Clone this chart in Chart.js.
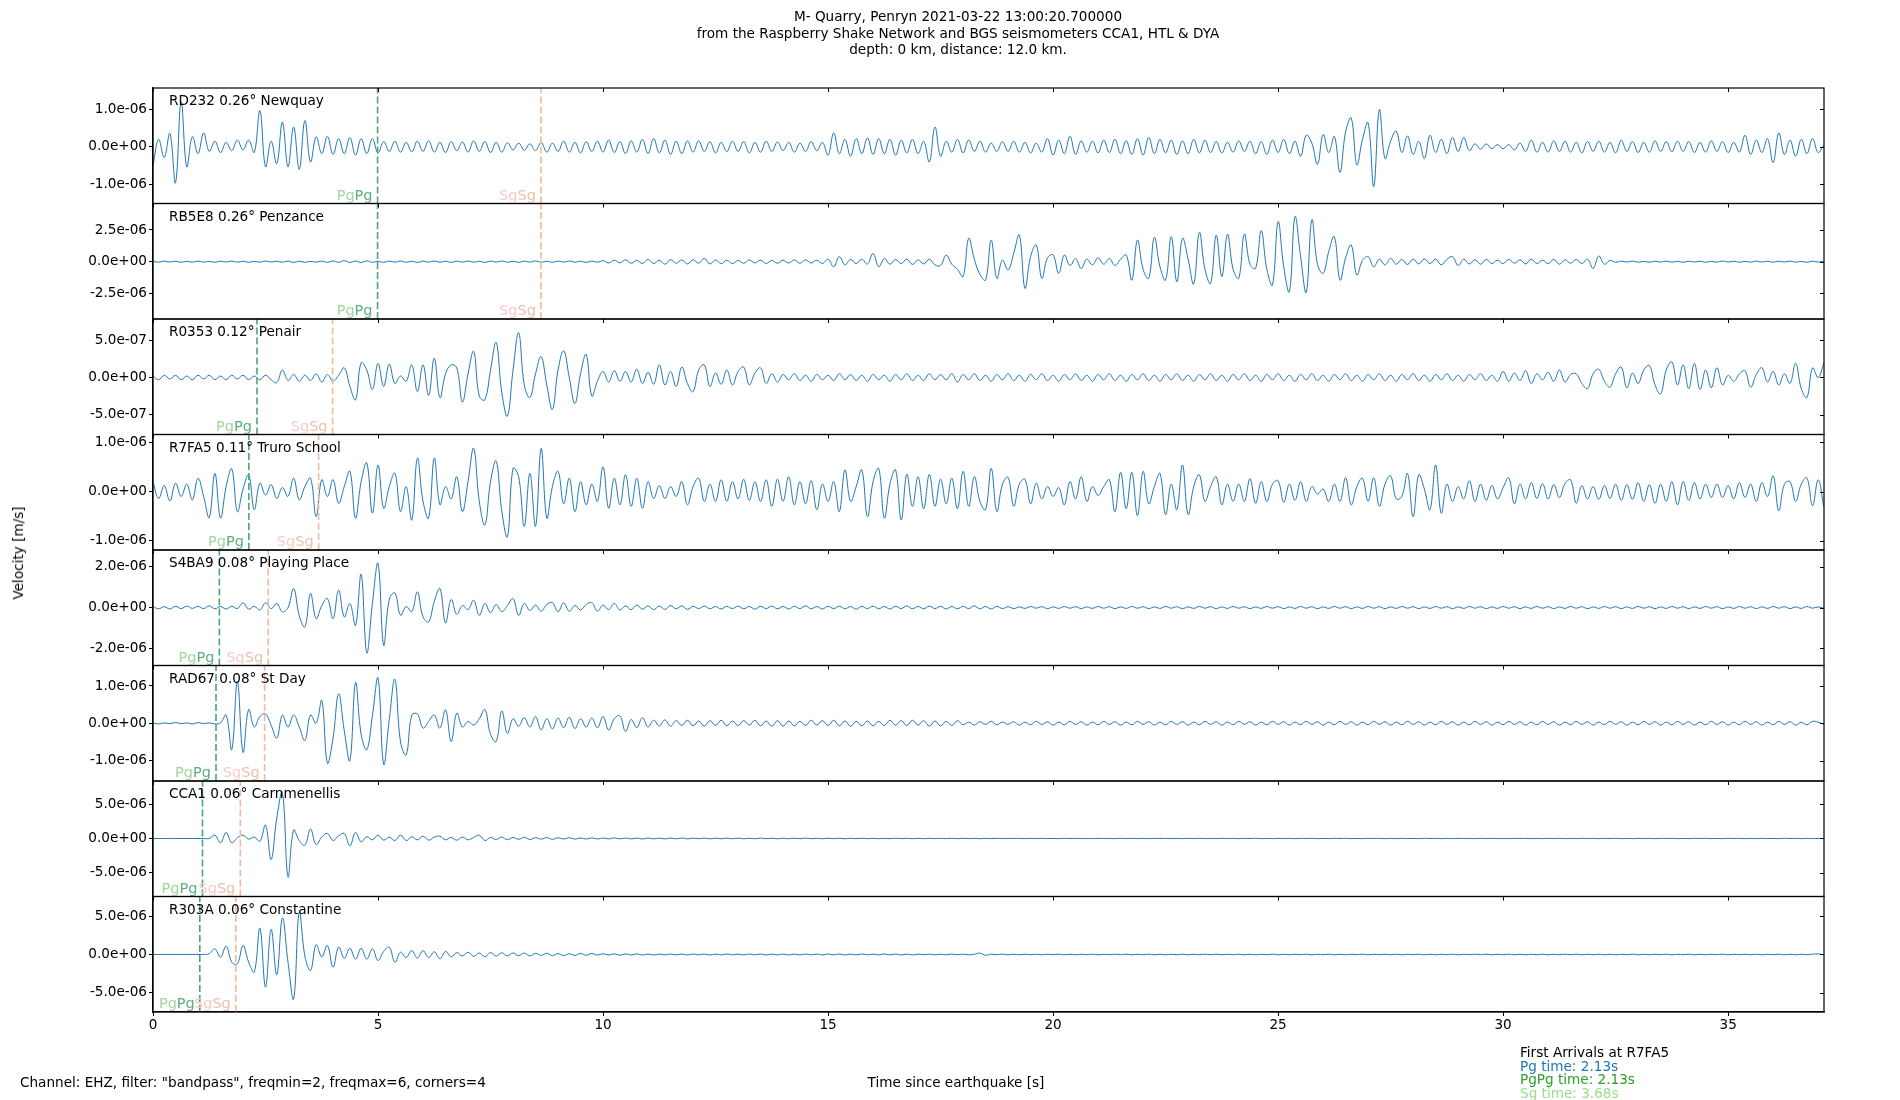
<!DOCTYPE html>
<html>
<head>
<meta charset="utf-8">
<title>M- Quarry, Penryn 2021-03-22</title>
<script src="https://cdn.jsdelivr.net/npm/chart.js@4.4.1/dist/chart.umd.min.js"></script>
<style>
  body { margin: 0; background: #fff; }
  #wrap { position: relative; width: 1900px; height: 1100px; font-family: "DejaVu Sans", sans-serif; font-size: 13.6px; color: #000; }
  #wrap canvas { position: absolute; left: 0; top: 0; }
  .txt { position: absolute; white-space: nowrap; }
  #title { left: 958px; top: 8px; transform: translateX(-50%); text-align: center; line-height: 16.5px; }
  #ylab { left: 18px; top: 553px; transform: translate(-50%, -50%) rotate(-90deg); }
  #chan { left: 20px; top: 1074px; line-height: 16px; }
  #xlab { left: 956px; top: 1074px; line-height: 16px; transform: translateX(-50%); }
  #arr { left: 1520px; top: 1046px; line-height: 13.7px; }
</style>
</head>
<body>
<div id="wrap">
  <canvas id="chart" width="1900" height="1100"></canvas>
  <div class="txt" id="title">M- Quarry, Penryn 2021-03-22 13:00:20.700000<br>from the Raspberry Shake Network and BGS seismometers CCA1, HTL &amp; DYA<br>depth: 0 km, distance: 12.0 km.</div>
  <div class="txt" id="ylab">Velocity [m/s]</div>
  <div class="txt" id="chan">Channel: EHZ, filter: "bandpass", freqmin=2, freqmax=6, corners=4</div>
  <div class="txt" id="xlab">Time since earthquake [s]</div>
  <div class="txt" id="arr">
    <div>First Arrivals at R7FA5</div>
    <div style="color:#1f77b4">Pg time: 2.13s</div>
    <div style="color:#2ca02c">PgPg time: 2.13s</div>
    <div style="color:#98df8a">Sg time: 3.68s</div>
  </div>
</div>
<script>
// traces, one value every DT seconds, in units of 1e-8 m/s
const DT = 0.125;
const UNIT = 1e-8;

const RD232 = [
  -50, 20, -28, 36, -96, 120, -53, 27,
  -18, 37, -12, 15, -15, 12, -10, 18,
  -8, 18, -15, 97, -53, 15, -45, 66,
  -53, 53, -60, 70, -40, 27, -18, 28,
  -20, 22, -18, 25, -22, 22, -18, 22,
  -16, 14, -12, 15, -14, 12, -13, 15,
  -12, 16, -14, 12, -15, 14, -10, 13,
  -14, 16, -12, 14, -15, 12, -14, 11,
  -8, 10, -9, 8, -10, 12, -14, 10,
  -12, 15, -14, 12, -16, 14, -12, 15,
  -14, 18, -15, 14, -18, 16, -14, 20,
  -18, 22, -16, 18, -20, 15, -18, 16,
  -14, 16, -12, 14, -16, 12, -13, 15,
  -12, 14, -16, 12, -14, 15, -12, 13,
  -10, 12, -14, 10, -12, 14, -10, 12,
  -22, 37, -18, 20, -25, 22, -18, 24,
  -20, 22, -18, 20, -22, 18, -16, 20,
  -18, 15, -40, 53, -25, 15, -14, 20,
  -16, 18, -12, 15, -14, 10, -12, 14,
  -12, 15, -14, 12, -16, 10, -14, 22,
  -22, 18, -18, 28, -20, 16, -14, 15,
  -16, 18, -15, 20, -18, 16, -20, 22,
  -22, 25, -18, 20, -16, 18, -20, 16,
  -18, 20, -16, 18, -15, 14, -16, 12,
  -14, 16, -12, 15, -18, 14, -20, 18,
  -15, 20, -18, 15, -25, 31, 10, -47,
  33, -15, 28, -68, 40, 77, -48, 20,
  64, -106, 100, -31, 15, 42, -15, 29,
  -20, 15, -31, 31, -15, 20, -18, 25,
  -12, 25, -10, 8, -6, 8, -5, 6,
  -5, 6, -8, 10, -12, 18, -14, 12,
  -14, 16, -12, 15, -14, 12, -16, 14,
  -12, 15, -14, 12, -16, 18, -12, 14,
  -15, 12, -14, 16, -12, 14, -13, 15,
  -12, 14, -15, 12, -14, 16, -12, 14,
  -15, 12, -14, 31, -20, 18, -15, 22,
  -42, 37, -20, 18, -25, 20, -18, 22,
  -15, 5
];

const RB5E8 = [
  3, -4, 5, -3, 4, -5, 3, -4,
  5, -4, 3, -5, 4, -3, 5, -4,
  4, -5, 3, -4, 6, -3, 4, -5,
  5, -6, 4, -5, 3, -4, 5, -6,
  6, -5, 8, -6, 5, -7, 6, -5,
  4, -6, 5, -4, 6, -5, 4, -6,
  5, -4, 6, -5, 4, -6, 5, -4,
  6, -5, 4, -6, 5, -4, 6, -5,
  4, -6, 5, -4, 7, -5, 4, -6,
  5, -4, 6, -5, 4, -6, 5, -4,
  8, -10, 12, -9, 15, -12, 10, -14,
  18, -15, 12, -20, 16, -12, 14, -18,
  15, -12, 26, -18, 14, -16, 12, -15,
  10, -12, 14, -10, 12, -14, 10, -12,
  12, -10, 14, -12, 15, -10, 12, -14,
  20, -40, 40, -25, 18, -15, 20, -18,
  65, -40, 25, -20, 18, -15, 20, -22,
  15, -18, 20, -25, -30, 52, -20, -60,
  -118, 184, 20, -100, -145, 171, -132, 13,
  -66, 66, 210, -210, 40, 132, -132, 30,
  53, -92, 53, -30, 25, -53, 20, -25,
  30, -20, 25, -30, 20, 53, -145, 171,
  -60, -132, 192, -40, -145, 197, -158, 184,
  20, -176, 231, -60, -171, 210, -118, 216,
  -60, -132, 218, -20, -53, 245, -60, -184,
  316, -40, -237, 355, 40, -242, 330, -20,
  -92, 80, 197, -145, 30, 132, -105, 10,
  40, -40, 20, -25, 26, -20, 18, -22,
  20, -18, 22, -15, 20, -25, 18, 40,
  -30, 20, -18, 15, -20, 18, -15, 12,
  -15, 18, -12, 15, -18, 20, -14, 12,
  -15, 18, -20, 15, -12, 18, -15, 20,
  -53, 45, -20, 10, -5, 4, -3, 5,
  -4, 3, -5, 4, -3, 5, -4, 3,
  -5, 4, -3, 4, -5, 3, -4, 6,
  -3, 4, -5, 3, -4, 5, -3, 4,
  -5, 4, -3, 5, -4, 3, -5, 4,
  -3, 4
];

const R0353 = [
  2, -3, 3, -2, 3, -3, 2, -3,
  3, -2, 3, -3, 2, -3, 3, -2,
  3, -3, 2, -3, 3, -3, -7, 10,
  -4, 4, -5, 3, -4, 5, -6, 4,
  -5, 3, 13, -12, -30, 20, 10, -16,
  19, -12, 18, -8, 2, -5, 17, -19,
  17, -24, 26, -27, 5, 17, 13, -33,
  5, 35, -25, -30, 10, 47, -20, -52,
  10, 60, -10, -27, 5, 28, -10, -43,
  10, 36, 0, -35, 5, 31, -25, -5,
  8, -6, 9, -5, 8, -6, 11, -8,
  7, -9, 17, -10, 8, -12, 14, -8,
  -19, 10, 17, -12, 6, -9, 10, -10,
  8, 14, -10, 6, 13, -8, 5, -6,
  4, -3, 5, -4, 3, -5, 4, -3,
  3, -4, 5, -3, 4, -4, 3, -5,
  4, -3, 3, -5, 4, -3, 5, -4,
  3, -4, 5, -3, 4, -3, 5, -6,
  4, -3, 5, -4, 3, -5, 4, -3,
  5, -4, 3, -5, 4, -3, 5, -4,
  3, -5, 4, -3, 5, -4, 3, -5,
  4, -3, 5, -4, 3, -5, 4, -3,
  5, -4, 3, -5, 4, -3, 5, -4,
  3, -5, 4, -3, 5, -4, 3, -5,
  4, -3, 5, -4, 3, -5, 4, -3,
  5, -4, 3, -5, 4, -3, 5, -4,
  3, -5, 4, -3, 5, -4, 3, -5,
  4, -3, 5, -4, 3, -5, 4, -3,
  5, -4, 3, -5, 4, -3, 5, -4,
  3, -5, 4, -3, 5, -4, 3, -5,
  8, -5, 6, -4, 9, -8, 5, -3,
  7, -5, 10, -6, 4, 5, -8, -15,
  5, 11, -5, -13, 5, 14, -14, 6,
  -8, 10, 16, -10, -22, 10, 21, -10,
  17, -15, 19, -16, 10, -14, 13, -10,
  3, -5, 5, 9, -13, 4, 13, -6,
  8, -10, 5, -8, 19, -15, -27, 13,
  0, 19
];

const R7FA5 = [
  20, -14, 12, -19, 17, -10, 15, -17,
  27, -10, -53, 37, -54, 10, 46, -41,
  5, 34, -37, 17, -7, 14, -14, 8,
  -10, 27, -17, 10, 27, -51, 24, -10,
  24, -24, 10, 41, -54, 20, 58, -44,
  54, -34, 10, 37, -41, 10, -58, 68,
  -20, -54, 68, -27, 10, -15, 30, -41,
  20, 88, -20, -68, 20, 62, -40, -92,
  47, 30, -71, 37, -71, 88, -54, 10,
  41, -25, 27, -41, 20, -27, 15, -20,
  50, -34, 27, -27, 34, -30, 27, -34,
  20, -14, 12, -14, 10, -10, 20, -27,
  10, 27, -20, 15, -20, 24, -20, 20,
  -15, 25, -18, 20, -20, 24, -30, 25,
  -20, 30, -27, 20, -25, 22, -37, 15,
  -20, 20, -41, 44, -20, 10, 44, -51,
  20, 47, -54, 15, 44, -58, 35, -30,
  30, -35, 35, -30, 25, -25, 27, -35,
  41, -30, 30, -20, -37, 47, -41, 15,
  29, -30, 15, 25, -25, 17, -15, 10,
  -10, 8, -27, 20, -15, 30, -20, 10,
  -8, 10, 24, -41, 39, -35, 39, -49,
  41, -25, 10, 37, -47, 15, -37, 54,
  -47, 10, 34, -20, 10, 30, -27, 15,
  -20, 15, -20, 26, -24, 20, -20, 15,
  22, -22, 15, -18, 20, -20, 10, -5,
  5, -20, 15, -20, 28, -27, 10, 27,
  -20, 28, -30, 15, 32, -15, -10, 37,
  -51, 34, 5, -37, 54, -44, 15, -20,
  10, -15, 22, -20, 15, -18, 12, -15,
  8, 28, -25, 15, -15, 18, -14, 16,
  -15, 14, -12, 16, 24, -24, 12, -15,
  10, -16, 12, -14, 15, -18, 14, -16,
  18, -20, 14, -24, 15, -20, 20, -27,
  20, -18, 18, -15, 15, -12, 15, -12,
  12, -15, 18, -12, 15, -20, 18, -10,
  32, -39, 15, 20, -20, 15, 28, -29,
  24, -30
];

const S4BA9 = [
  5, -6, 4, -7, 6, -5, 7, -4,
  6, -5, 8, -6, 5, -7, 6, -5,
  23, -8, 6, -12, 23, -5, 20, -21,
  0, 93, -40, -95, 69, -54, 10, 44,
  -54, 85, -46, 20, -87, 163, -222, 20,
  216, -184, 40, 72, -38, 5, -20, 77,
  -46, -70, 30, 93, -75, 39, -33, 10,
  -10, 36, -38, 20, -25, 15, -20, 10,
  44, -38, 20, -15, 12, -18, 15, 24,
  -20, 23, -18, 10, -12, 15, 24, -18,
  12, -10, 20, -12, 8, -10, 12, -8,
  8, -10, 7, -9, 10, -6, 8, -9,
  6, -5, 7, -6, 5, -7, 6, -5,
  7, -6, 5, -8, 6, -5, 7, -6,
  5, -7, 6, -5, 8, -6, 5, -7,
  6, -5, 7, -6, 5, -8, 6, -5,
  7, -6, 5, -7, 6, -5, 8, -6,
  5, -6, 7, -5, 6, -7, 5, -6,
  6, -5, 8, -6, 5, -7, 6, -5,
  4, -5, 3, -4, 5, -3, 4, -5,
  3, -4, 5, -3, 4, -5, 3, -4,
  5, -3, 4, -5, 3, -4, 5, -3,
  4, -5, 3, -4, 5, -3, 4, -5,
  3, -4, 5, -3, 4, -5, 3, -4,
  5, -3, 4, -5, 3, -4, 5, -3,
  4, -5, 3, -4, 5, -3, 4, -5,
  3, -4, 5, -3, 4, -5, 3, -4,
  5, -3, 4, -5, 3, -4, 5, -3,
  4, -5, 3, -4, 5, -3, 4, -5,
  3, -4, 5, -3, 4, -5, 3, -4,
  5, -3, 4, -5, 3, -4, 5, -3,
  4, -5, 3, -4, 5, -3, 4, -5,
  3, -4, 5, -3, 4, -5, 3, -4,
  5, -3, 4, -5, 3, -4, 5, -3,
  4, -5, 3, -4, 5, -3, 4, -5,
  3, -4, 5, -3, 4, -5, 3, -4,
  5, -3, 4, -5, 3, -4, 5, -3,
  3, -4
];

const RAD67 = [
  1, -2, 1, -1, 2, -1, 1, -2,
  2, -1, 1, -2, 1, 22, -71, 112,
  -78, 37, -10, 18, 25, -5, -40, 22,
  -10, 22, -10, -46, 22, 0, 61, -107,
  -40, 79, -20, -100, 109, -30, -71, 20,
  121, -110, 10, 118, -50, -85, 22, 25,
  -13, 5, 22, -13, 36, -49, 27, -10,
  5, -5, 12, 37, -30, -49, 33, -27,
  12, -8, 15, -10, 18, -18, 12, -15,
  14, -12, 16, -14, 12, -10, 14, -12,
  18, -18, 12, 20, -22, 10, -12, 15,
  -10, 8, -7, 9, -8, 7, -6, 8,
  -7, 6, -8, 7, -6, 8, -7, 6,
  -6, 7, -5, 8, -7, 6, -8, 7,
  -8, 6, -7, 5, -6, 8, -5, 7,
  -6, 8, -7, 6, -8, 5, -7, 6,
  -7, 5, -6, 8, -5, 7, -6, 8,
  -5, 7, -8, 6, -7, 5, -6, 7,
  -4, 3, -5, 4, -3, 5, -4, 3,
  -3, 4, -5, 3, -4, 5, -3, 4,
  -5, 3, -4, 5, -3, 4, -5, 3,
  -4, 5, -3, 4, -5, 3, -4, 5,
  -3, 4, -5, 3, -4, 5, -3, 4,
  -5, 3, -4, 5, -3, 4, -5, 3,
  -4, 5, -3, 4, -5, 3, -4, 5,
  -3, 4, -5, 3, -4, 5, -3, 4,
  -5, 3, -4, 5, -3, 4, -5, 3,
  -4, 5, -3, 4, -5, 3, -4, 5,
  -3, 4, -5, 3, -4, 5, -3, 4,
  -5, 3, -4, 5, -3, 4, -5, 3,
  -4, 5, -3, 4, -5, 3, -4, 5,
  -3, 4, -5, 3, -4, 5, -3, 4,
  -5, 3, -4, 5, -3, 4, -5, 3,
  -4, 5, -3, 4, -5, 3, -4, 5,
  -3, 4, -5, 3, -4, 5, -3, 4,
  -5, 3, -4, 5, -3, 4, -5, 3,
  -4, 5, -3, 4, -5, 3, -4, 5,
  3, -3
];

const CCA1 = [
  0, 0, 0, 0, 0, 0, 0, 0,
  0, 0, 0, 49, -63, 88, -63, 10,
  49, -10, 20, -40, 195, -307, 300, 673,
  -561, 122, -30, -98, 137, -88, 20, 73,
  -30, 40, 73, -107, 88, -49, 25, -20,
  49, -25, 20, -30, 49, -30, 25, -20,
  34, -25, 20, 34, -20, 15, -25, 20,
  -20, 15, 49, -30, 15, -15, 20, -18,
  15, -12, 18, -15, 12, -10, 14, -12,
  10, -8, 12, -10, 8, -9, 10, -8,
  8, -7, 9, -6, 8, -7, 6, -8,
  7, -6, 5, -7, 6, -5, 7, -6,
  5, -4, 6, -5, 4, -5, 5, -4,
  4, -5, 3, -4, 5, -3, 4, -5,
  3, -4, 4, -3, 5, -4, 3, -4,
  4, -3, 3, -4, 3, -3, 4, -3,
  3, -3, 2, -3, 4, -2, 3, -3,
  2, -3, 3, -2, 3, -2, 2, -3,
  3, -2, 2, -3, 2, -2, 3, -2,
  2, -1, 2, -2, 1, -2, 2, -1,
  1, -2, 2, -1, 2, -2, 1, -2,
  2, -1, 1, -2, 2, -1, 2, -2,
  1, -2, 2, -1, 2, -2, 1, -2,
  2, -1, 2, -2, 1, -2, 2, -1,
  1, -2, 2, -1, 2, -2, 1, -2,
  2, -1, 1, -2, 2, -1, 2, -2,
  1, -2, 2, -1, 2, -2, 1, -2,
  2, -1, 2, -2, 1, -2, 2, -1,
  1, -2, 2, -1, 2, -2, 1, -2,
  2, -1, 1, -2, 2, -1, 2, -2,
  1, -2, 2, -1, 2, -2, 1, -2,
  2, -1, 2, -2, 1, -2, 2, -1,
  1, -2, 2, -1, 2, -2, 1, -2,
  2, -1, 1, -2, 2, -1, 2, -2,
  1, -2, 2, -1, 2, -2, 1, -2,
  2, -1, 2, -2, 1, -2, 2, -1,
  1, -2, 2, -1, 2, -2, 1, -2,
  1, -1
];

const R303A = [
  0, 0, 0, 0, 0, 0, 0, 0,
  0, 0, 10, 74, -35, 109, -100, -122,
  118, -100, -231, 345, -428, 328, -266, 476,
  -100, -581, 555, -20, -210, 127, -30, 118,
  -166, 96, -50, 80, -60, 80, -60, 74,
  -79, 40, 96, -100, 30, -40, 50, -45,
  50, -40, 35, -55, 40, -30, 25, -20,
  30, -25, 20, -30, 25, -20, 22, -18,
  20, -15, 18, -20, 15, -12, 16, -14,
  12, -14, 10, -12, 14, -10, 12, -8,
  10, -8, 9, -10, 8, -7, 9, -8,
  6, -7, 5, -6, 7, -5, 6, -7,
  7, -5, 6, -7, 5, -6, 7, -5,
  5, -6, 7, -5, 6, -7, 5, -6,
  6, -7, 5, -6, 7, -5, 6, -7,
  7, -5, 6, -7, 5, -6, 7, -5,
  5, -6, 7, -5, 6, -7, 5, -6,
  4, -3, 5, -4, 3, -4, 5, -3,
  4, -5, 3, 18, -10, 4, -3, 5,
  -4, 3, -4, 4, -3, 4, -4, 3,
  -3, 4, -4, 3, -4, 3, -3, 4,
  -4, 3, -3, 4, -3, 4, -4, 3,
  -3, 4, -4, 3, -4, 3, -3, 4,
  -4, 3, -3, 4, -3, 4, -4, 3,
  -3, 4, -4, 3, -4, 3, -3, 4,
  -4, 3, -3, 4, -3, 4, -4, 3,
  -3, 4, -4, 3, -4, 3, -3, 4,
  -4, 3, -3, 4, -3, 4, -4, 3,
  -3, 4, -4, 3, -4, 3, -3, 4,
  -4, 3, -3, 4, -3, 4, -4, 3,
  -3, 4, -4, 3, -4, 3, -3, 4,
  -4, 3, -3, 4, -3, 4, -4, 3,
  -3, 4, -4, 3, -4, 3, -3, 4,
  -4, 3, -3, 4, -3, 4, -4, 3,
  -3, 4, -4, 3, -4, 3, -3, 4,
  -4, 3, -3, 4, -3, 4, -4, 3,
  -3, 4, -4, 3, -4, 3, -3, 4,
  8, -5
];

const TRACES = [RD232, RB5E8, R0353, R7FA5, S4BA9, RAD67, CCA1, R303A];
const STATIONS = ['RD232 0.26° Newquay', 'RB5E8 0.26° Penzance', 'R0353 0.12° Penair',
  'R7FA5 0.11° Truro School', 'S4BA9 0.08° Playing Place', 'RAD67 0.08° St Day',
  'CCA1 0.06° Carnmenellis', 'R303A 0.06° Constantine'];

// arrival times [s] per station
const PG_T = [4.99, 4.99, 2.31, 2.13, 1.475, 1.40, 1.10, 1.04];
const SG_T = [8.62, 8.62, 3.99, 3.68, 2.56, 2.48, 1.94, 1.84];

// axis limits and ticks
const Y_MIN = [-1.51e-6, -4.52e-6, -7.66e-7, -1.19e-6, -2.84e-6, -1.55e-6, -8.48e-6, -7.53e-6];
const Y_MAX = [1.57e-6, 4.59e-6, 7.86e-7, 1.16e-6, 2.82e-6, 1.55e-6, 8.40e-6, 7.59e-6];
const Y_STEP = [1e-6, 2.5e-6, 5e-7, 1e-6, 2e-6, 1e-6, 5e-6, 5e-6];
const X_MAX = 37.13;
const X_TICKS = [0, 5, 10, 15, 20, 25, 30, 35];

const TRACE_COLOR = '#1f77b4';
const PG_LINE = '#4aa679', SG_LINE = '#edbba0';
const PG_LIGHT = '#a0d89c', PG_DARK = '#5aaf80';
const SG_LIGHT = '#fbcaca', SG_DARK = '#eec0a8';

const FONT_FAMILY = '"DejaVu Sans"';
Chart.defaults.font.family = FONT_FAMILY;
Chart.defaults.font.size = 13.6;
Chart.defaults.color = '#000';

function fmtSci(v) {
  const [m, e] = Number(v).toExponential(1).split('e');
  const sign = e[0] === '-' ? '-' : '+';
  return m + 'e' + sign + e.replace(/^[+-]/, '').padStart(2, '0');
}

const datasets = [];
const scales = {
  x: {
    type: 'linear', position: 'bottom', min: 0, max: X_MAX,
    afterBuildTicks: s => { s.ticks = X_TICKS.map(v => ({ value: v })); },
    afterFit: s => { s.height = 40; },
    ticks: { padding: 1, maxRotation: 0, autoSkip: false },
    grid: { display: true, drawOnChartArea: false, tickLength: 4, color: '#000' },
    border: { display: true, color: '#000', width: 1.2 }
  }
};

TRACES.forEach((tr, k) => {
  const id = 'p' + k;
  scales[id] = {
    type: 'linear', position: 'left', stack: 'panels', stackWeight: 1, weight: 8 - k,
    min: Y_MIN[k], max: Y_MAX[k],
    afterBuildTicks: s => { s.ticks = [-Y_STEP[k], 0, Y_STEP[k]].map(v => ({ value: v })); },
    afterFit: s => { s.width = 153; },
    ticks: { padding: 2, callback: v => fmtSci(v) },
    grid: { display: true, drawOnChartArea: false, tickLength: 4, color: '#000' },
    border: { display: true, color: '#000', width: 1.2 }
  };
  datasets.push({
    data: tr.map((v, i) => ({ x: i * DT, y: v * UNIT })),
    yAxisID: id, borderColor: TRACE_COLOR, borderWidth: 1, tension: 0.4, order: 2
  });
  datasets.push({
    data: [{ x: PG_T[k], y: Y_MIN[k] }, { x: PG_T[k], y: Y_MAX[k] }],
    yAxisID: id, borderColor: PG_LINE, borderWidth: 1.6, borderDash: [7, 3], order: 1
  });
  datasets.push({
    data: [{ x: SG_T[k], y: Y_MIN[k] }, { x: SG_T[k], y: Y_MAX[k] }],
    yAxisID: id, borderColor: SG_LINE, borderWidth: 1.6, borderDash: [7, 3], order: 1
  });
});

// two-tone phase label ending just left of its line
function drawPair(ctx, txt, right, base, light, dark) {
  const w = ctx.measureText(txt).width;
  ctx.textAlign = 'right';
  ctx.fillStyle = dark;
  ctx.fillText(txt, right, base);
  ctx.fillStyle = light;
  ctx.fillText(txt, right - w, base);
}

const panelDecor = {
  id: 'panelDecor',
  afterDatasetsDraw(chart) {
    const { ctx, chartArea } = chart;
    const xs = chart.scales.x;
    ctx.save();
    TRACES.forEach((tr, k) => {
      const s = chart.scales['p' + k];
      ctx.strokeStyle = '#000';
      ctx.lineWidth = 1.2;
      ctx.strokeRect(chartArea.left, s.top, chartArea.right - chartArea.left, s.bottom - s.top);
      ctx.beginPath();
      X_TICKS.forEach(v => {
        const px = Math.round(xs.getPixelForValue(v)) + 0.5;
        ctx.moveTo(px, s.top);
        ctx.lineTo(px, s.top + 4);
      });
      s.ticks.forEach(t => {
        const py = Math.round(s.getPixelForValue(t.value)) + 0.5;
        ctx.moveTo(chartArea.right - 4, py);
        ctx.lineTo(chartArea.right, py);
      });
      ctx.lineWidth = 1;
      ctx.stroke();

      ctx.textBaseline = 'alphabetic';
      ctx.font = '13.6px ' + FONT_FAMILY;
      ctx.textAlign = 'left';
      ctx.fillStyle = '#000';
      ctx.fillText(STATIONS[k], chartArea.left + 16, s.top + 17);

      ctx.font = '14.5px ' + FONT_FAMILY;
      drawPair(ctx, 'Pg', xs.getPixelForValue(PG_T[k]) - 5, s.bottom - 4, PG_LIGHT, PG_DARK);
      drawPair(ctx, 'Sg', xs.getPixelForValue(SG_T[k]) - 5, s.bottom - 4, SG_LIGHT, SG_DARK);
    });
    ctx.restore();
  }
};

new Chart(document.getElementById('chart'), {
  type: 'line',
  data: { datasets },
  options: {
    responsive: false,
    animation: false,
    events: [],
    layout: { padding: { left: 0, right: 76, top: 88, bottom: 48 } },
    elements: { point: { radius: 0 } },
    plugins: { legend: { display: false }, tooltip: { enabled: false }, title: { display: false } },
    scales
  },
  plugins: [panelDecor]
});
</script>
</body>
</html>
